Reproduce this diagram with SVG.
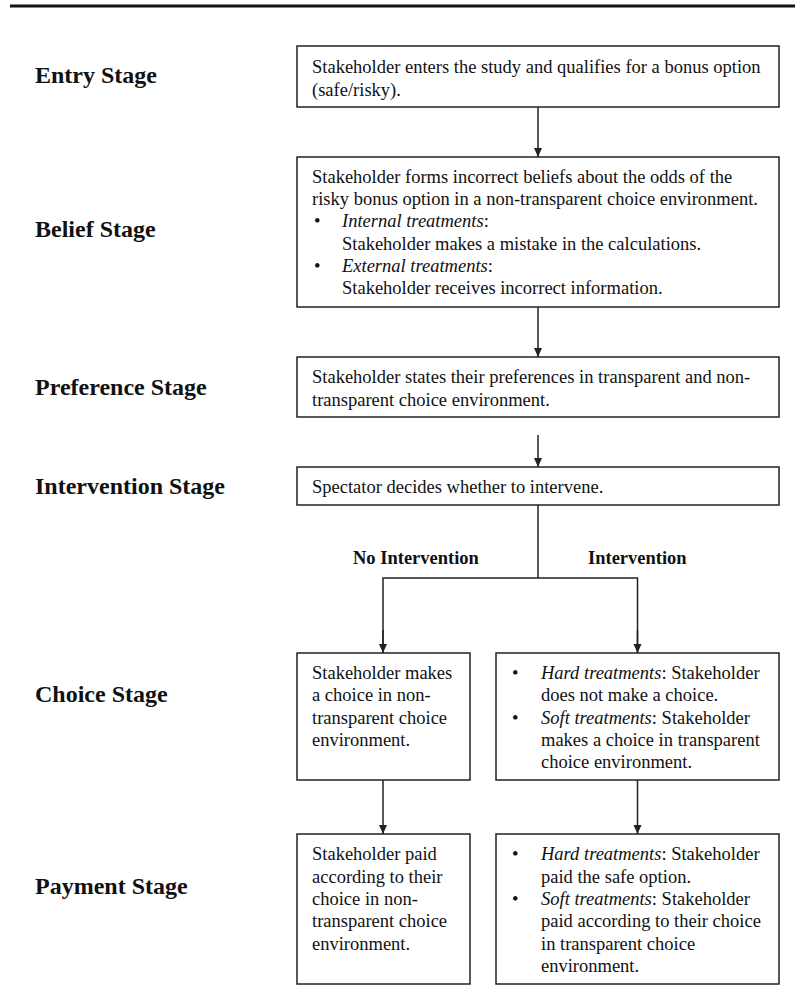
<svg xmlns="http://www.w3.org/2000/svg" width="795" height="1007" viewBox="0 0 795 1007">
<defs>
<style>
.bg{fill:#ffffff}
.box{fill:#ffffff;stroke:#222222;stroke-width:1.5}
.t{font-family:"Liberation Serif","Times New Roman",serif;font-size:18.5px;fill:#111111}
.lab{font-family:"Liberation Serif","Times New Roman",serif;font-size:24px;font-weight:bold;fill:#111111}
.blab{font-family:"Liberation Serif","Times New Roman",serif;font-size:18.5px;font-weight:bold;fill:#111111}
.i{font-style:italic}
.c{fill:none;stroke:#222222;stroke-width:1.5}
.rule{stroke:#111111;stroke-width:3}
</style>
<marker id="ah" markerUnits="userSpaceOnUse" markerWidth="10" markerHeight="10" refX="9" refY="4" orient="auto">
<path d="M0,0 L9,4 L0,8 Z" fill="#222222"/>
</marker>
</defs>
<rect class="bg" x="0" y="0" width="795" height="1007"/>
<line class="rule" x1="10" y1="6" x2="795" y2="6"/>

<g id="labels">
<text class="lab" x="35" y="83">Entry Stage</text>
<text class="lab" x="35" y="237">Belief Stage</text>
<text class="lab" x="35" y="395">Preference Stage</text>
<text class="lab" x="35" y="494">Intervention Stage</text>
<text class="lab" x="35" y="702">Choice Stage</text>
<text class="lab" x="35" y="894">Payment Stage</text>
</g>

<g id="connectors">
<line class="c" x1="538" y1="107" x2="538" y2="157" marker-end="url(#ah)"/>
<line class="c" x1="538" y1="307" x2="538" y2="357" marker-end="url(#ah)"/>
<line class="c" x1="538" y1="435" x2="538" y2="467" marker-end="url(#ah)"/>
<polyline class="c" points="538,505 538,578"/>
<polyline class="c" points="383,653 383,578 637.5,578 637.5,653"/>
<line class="c" x1="383" y1="630" x2="383" y2="653" marker-end="url(#ah)"/>
<line class="c" x1="637.5" y1="630" x2="637.5" y2="653" marker-end="url(#ah)"/>
<line class="c" x1="383" y1="780" x2="383" y2="834" marker-end="url(#ah)"/>
<line class="c" x1="637.5" y1="780" x2="637.5" y2="834" marker-end="url(#ah)"/>
<text class="blab" x="353" y="564">No Intervention</text>
<text class="blab" x="588" y="564">Intervention</text>
</g>

<g id="entry">
<rect class="box" x="297" y="46" width="482" height="61"/>
<text class="t" x="312" y="73">Stakeholder enters the study and qualifies for a bonus option</text>
<text class="t" x="312" y="95.5">(safe/risky).</text>
</g>

<g id="belief">
<rect class="box" x="297" y="157" width="482" height="150"/>
<text class="t" x="312" y="183">Stakeholder forms incorrect beliefs about the odds of the</text>
<text class="t" x="312" y="205">risky bonus option in a non-transparent choice environment.</text>
<text class="t" x="314" y="227">•</text>
<text class="t" x="342" y="227"><tspan class="i">Internal treatments</tspan>:</text>
<text class="t" x="342" y="249.5">Stakeholder makes a mistake in the calculations.</text>
<text class="t" x="314" y="271.5">•</text>
<text class="t" x="342" y="271.5"><tspan class="i">External treatments</tspan>:</text>
<text class="t" x="342" y="294">Stakeholder receives incorrect information.</text>
</g>

<g id="preference">
<rect class="box" x="297" y="357" width="482" height="60"/>
<text class="t" x="312" y="383">Stakeholder states their preferences in transparent and non-</text>
<text class="t" x="312" y="405.5">transparent choice environment.</text>
</g>

<g id="intervention">
<rect class="box" x="297" y="467" width="482" height="38"/>
<text class="t" x="312" y="493">Spectator decides whether to intervene.</text>
</g>

<g id="choice-no">
<rect class="box" x="297" y="653" width="173" height="127"/>
<text class="t" x="312" y="679">Stakeholder makes</text>
<text class="t" x="312" y="701">a choice in non-</text>
<text class="t" x="312" y="723.5">transparent choice</text>
<text class="t" x="312" y="745.5">environment.</text>
</g>

<g id="choice-yes">
<rect class="box" x="496" y="653" width="283" height="127"/>
<text class="t" x="512" y="679">•</text>
<text class="t" x="541" y="679"><tspan class="i">Hard treatments</tspan>: Stakeholder</text>
<text class="t" x="541" y="701">does not make a choice.</text>
<text class="t" x="512" y="723.5">•</text>
<text class="t" x="541" y="723.5"><tspan class="i">Soft treatments</tspan>: Stakeholder</text>
<text class="t" x="541" y="745.5">makes a choice in transparent</text>
<text class="t" x="541" y="768">choice environment.</text>
</g>

<g id="payment-no">
<rect class="box" x="297" y="834" width="173" height="150"/>
<text class="t" x="312" y="860">Stakeholder paid</text>
<text class="t" x="312" y="882.5">according to their</text>
<text class="t" x="312" y="904.5">choice in non-</text>
<text class="t" x="312" y="927">transparent choice</text>
<text class="t" x="312" y="949.5">environment.</text>
</g>

<g id="payment-yes">
<rect class="box" x="496" y="834" width="283" height="150"/>
<text class="t" x="512" y="860">•</text>
<text class="t" x="541" y="860"><tspan class="i">Hard treatments</tspan>: Stakeholder</text>
<text class="t" x="541" y="882.5">paid the safe option.</text>
<text class="t" x="512" y="904.5">•</text>
<text class="t" x="541" y="904.5"><tspan class="i">Soft treatments</tspan>: Stakeholder</text>
<text class="t" x="541" y="927">paid according to their choice</text>
<text class="t" x="541" y="949.5">in transparent choice</text>
<text class="t" x="541" y="971.5">environment.</text>
</g>
</svg>
